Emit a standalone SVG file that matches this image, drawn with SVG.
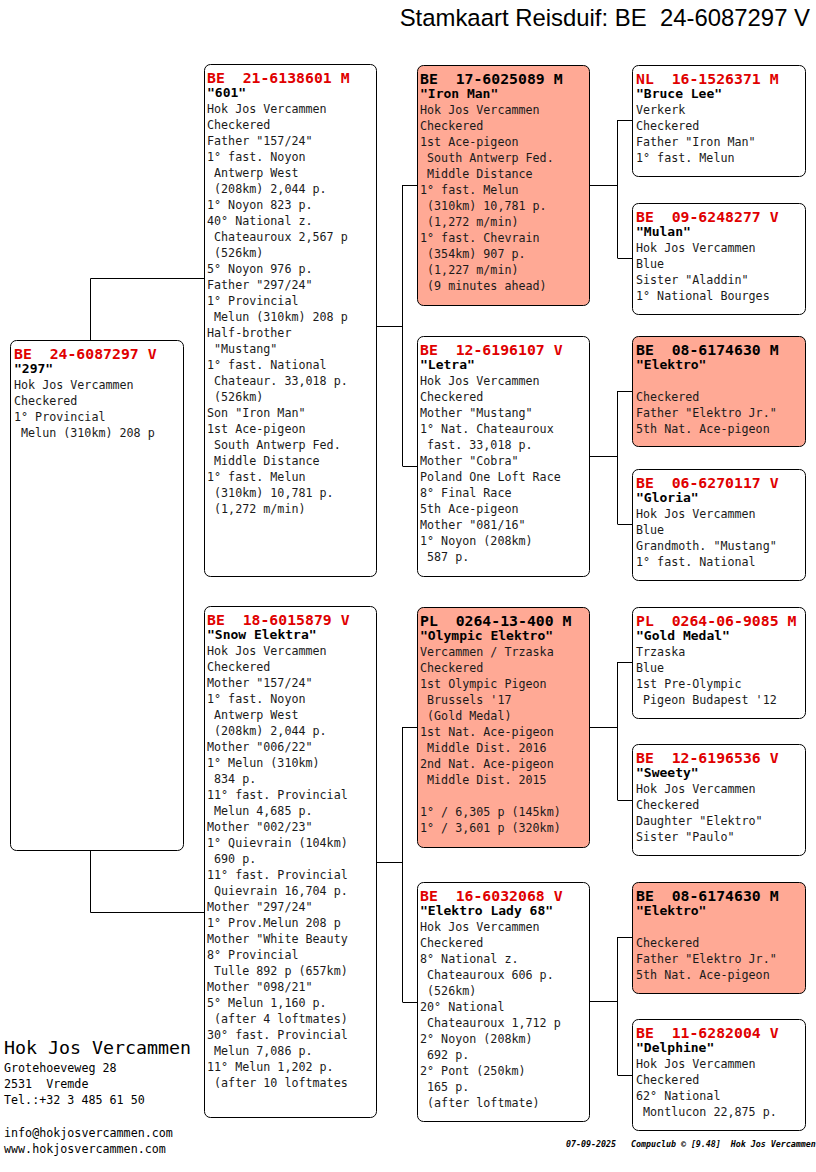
<svg xmlns="http://www.w3.org/2000/svg" width="816" height="1172" viewBox="0 0 816 1172" xml:space="preserve">
<style>
text{white-space:pre}
.box{fill:#ffffff;stroke:#000;stroke-width:1}
.hl{fill:#FFA995;stroke:#000;stroke-width:1}
.t{font-family:"DejaVu Sans Mono","Liberation Mono",monospace;font-size:11.7px;fill:#1a1a1a}
.h{font-family:"DejaVu Sans Mono","Liberation Mono",monospace;font-size:14.8px;font-weight:bold;fill:#E00000}
.hk{fill:#000}
.n{font-family:"DejaVu Sans Mono","Liberation Mono",monospace;font-size:13px;font-weight:bold;fill:#000}
.c{fill:none;stroke:#000;stroke-width:1}
.title{font-family:"Liberation Sans",Arial,sans-serif;font-size:23.9px;fill:#000}
</style>
<rect width="816" height="1172" fill="#fff"/>
<text class="title" x="810" y="26" text-anchor="end">Stamkaart Reisduif: BE  24-6087297 V</text>

<g id="connectors">
<path class="c" d="M90.5 340 V278.5 H204 M90.5 850 V912.5 H204"/>
<path class="c" d="M376 326.5 H402.5 M402.5 185 V466 M402.5 185.5 H417 M402.5 466.5 H417"/>
<path class="c" d="M376 862.5 H402.5 M402.5 727 V1002 M402.5 727.5 H417 M402.5 1002.5 H417"/>
<path class="c" d="M589 185.5 H617.5 M617.5 120 V258 M617.5 120.5 H632 M617.5 258.5 H632"/>
<path class="c" d="M589 456.5 H617.5 M617.5 391 V524 M617.5 391.5 H632 M617.5 524.5 H632"/>
<path class="c" d="M589 727.5 H617.5 M617.5 662 V800 M617.5 662.5 H632 M617.5 800.5 H632"/>
<path class="c" d="M589 1001.5 H617.5 M617.5 937 V1075 M617.5 937.5 H632 M617.5 1075.5 H632"/>
</g>

<g id="n297">
<rect class="box" x="10.5" y="340.5" width="173" height="510" rx="6"/>
<text class="h" x="14" y="359">BE  24-6087297 V</text>
<text class="n" x="14" y="373">"297"</text>
<text class="t"><tspan x="14" y="389">Hok Jos Vercammen</tspan><tspan x="14" dy="16">Checkered</tspan><tspan x="14" dy="16">1° Provincial</tspan><tspan x="14" dy="16"> Melun (310km) 208 p</tspan></text>
</g>

<g id="n601">
<rect class="box" x="204.5" y="64.5" width="172" height="512" rx="6"/>
<text class="h" x="207" y="83">BE  21-6138601 M</text>
<text class="n" x="207" y="97">"601"</text>
<text class="t"><tspan x="207" y="113">Hok Jos Vercammen</tspan><tspan x="207" dy="16">Checkered</tspan><tspan x="207" dy="16">Father "157/24"</tspan><tspan x="207" dy="16">1° fast. Noyon</tspan><tspan x="207" dy="16"> Antwerp West</tspan><tspan x="207" dy="16"> (208km) 2,044 p.</tspan><tspan x="207" dy="16">1° Noyon 823 p.</tspan><tspan x="207" dy="16">40° National z.</tspan><tspan x="207" dy="16"> Chateauroux 2,567 p</tspan><tspan x="207" dy="16"> (526km)</tspan><tspan x="207" dy="16">5° Noyon 976 p.</tspan><tspan x="207" dy="16">Father "297/24"</tspan><tspan x="207" dy="16">1° Provincial</tspan><tspan x="207" dy="16"> Melun (310km) 208 p</tspan><tspan x="207" dy="16">Half-brother</tspan><tspan x="207" dy="16"> "Mustang"</tspan><tspan x="207" dy="16">1° fast. National</tspan><tspan x="207" dy="16"> Chateaur. 33,018 p.</tspan><tspan x="207" dy="16"> (526km)</tspan><tspan x="207" dy="16">Son "Iron Man"</tspan><tspan x="207" dy="16">1st Ace-pigeon</tspan><tspan x="207" dy="16"> South Antwerp Fed.</tspan><tspan x="207" dy="16"> Middle Distance</tspan><tspan x="207" dy="16">1° fast. Melun</tspan><tspan x="207" dy="16"> (310km) 10,781 p.</tspan><tspan x="207" dy="16"> (1,272 m/min)</tspan></text>
</g>

<g id="nSnowElektra">
<rect class="box" x="204.5" y="606.5" width="172" height="511" rx="6"/>
<text class="h" x="207" y="625">BE  18-6015879 V</text>
<text class="n" x="207" y="639">"Snow Elektra"</text>
<text class="t"><tspan x="207" y="655">Hok Jos Vercammen</tspan><tspan x="207" dy="16">Checkered</tspan><tspan x="207" dy="16">Mother "157/24"</tspan><tspan x="207" dy="16">1° fast. Noyon</tspan><tspan x="207" dy="16"> Antwerp West</tspan><tspan x="207" dy="16"> (208km) 2,044 p.</tspan><tspan x="207" dy="16">Mother "006/22"</tspan><tspan x="207" dy="16">1° Melun (310km)</tspan><tspan x="207" dy="16"> 834 p.</tspan><tspan x="207" dy="16">11° fast. Provincial</tspan><tspan x="207" dy="16"> Melun 4,685 p.</tspan><tspan x="207" dy="16">Mother "002/23"</tspan><tspan x="207" dy="16">1° Quievrain (104km)</tspan><tspan x="207" dy="16"> 690 p.</tspan><tspan x="207" dy="16">11° fast. Provincial</tspan><tspan x="207" dy="16"> Quievrain 16,704 p.</tspan><tspan x="207" dy="16">Mother "297/24"</tspan><tspan x="207" dy="16">1° Prov.Melun 208 p</tspan><tspan x="207" dy="16">Mother "White Beauty</tspan><tspan x="207" dy="16">8° Provincial</tspan><tspan x="207" dy="16"> Tulle 892 p (657km)</tspan><tspan x="207" dy="16">Mother "098/21"</tspan><tspan x="207" dy="16">5° Melun 1,160 p.</tspan><tspan x="207" dy="16"> (after 4 loftmates)</tspan><tspan x="207" dy="16">30° fast. Provincial</tspan><tspan x="207" dy="16"> Melun 7,086 p.</tspan><tspan x="207" dy="16">11° Melun 1,202 p.</tspan><tspan x="207" dy="16"> (after 10 loftmates</tspan></text>
</g>

<g id="nIronMan">
<rect class="hl" x="417.5" y="65.5" width="172" height="240" rx="6"/>
<text class="h hk" x="420" y="84">BE  17-6025089 M</text>
<text class="n" x="420" y="98">"Iron Man"</text>
<text class="t"><tspan x="420" y="114">Hok Jos Vercammen</tspan><tspan x="420" dy="16">Checkered</tspan><tspan x="420" dy="16">1st Ace-pigeon</tspan><tspan x="420" dy="16"> South Antwerp Fed.</tspan><tspan x="420" dy="16"> Middle Distance</tspan><tspan x="420" dy="16">1° fast. Melun</tspan><tspan x="420" dy="16"> (310km) 10,781 p.</tspan><tspan x="420" dy="16"> (1,272 m/min)</tspan><tspan x="420" dy="16">1° fast. Chevrain</tspan><tspan x="420" dy="16"> (354km) 907 p.</tspan><tspan x="420" dy="16"> (1,227 m/min)</tspan><tspan x="420" dy="16"> (9 minutes ahead)</tspan></text>
</g>

<g id="nLetra">
<rect class="box" x="417.5" y="336.5" width="172" height="240" rx="6"/>
<text class="h" x="420" y="355">BE  12-6196107 V</text>
<text class="n" x="420" y="369">"Letra"</text>
<text class="t"><tspan x="420" y="385">Hok Jos Vercammen</tspan><tspan x="420" dy="16">Checkered</tspan><tspan x="420" dy="16">Mother "Mustang"</tspan><tspan x="420" dy="16">1° Nat. Chateauroux</tspan><tspan x="420" dy="16"> fast. 33,018 p.</tspan><tspan x="420" dy="16">Mother "Cobra"</tspan><tspan x="420" dy="16">Poland One Loft Race</tspan><tspan x="420" dy="16">8° Final Race</tspan><tspan x="420" dy="16">5th Ace-pigeon</tspan><tspan x="420" dy="16">Mother "081/16"</tspan><tspan x="420" dy="16">1° Noyon (208km)</tspan><tspan x="420" dy="16"> 587 p.</tspan></text>
</g>

<g id="nOlympicElektro">
<rect class="hl" x="417.5" y="607.5" width="172" height="240" rx="6"/>
<text class="h hk" x="420" y="626">PL  0264-13-400 M</text>
<text class="n" x="420" y="640">"Olympic Elektro"</text>
<text class="t"><tspan x="420" y="656">Vercammen / Trzaska</tspan><tspan x="420" dy="16">Checkered</tspan><tspan x="420" dy="16">1st Olympic Pigeon</tspan><tspan x="420" dy="16"> Brussels '17</tspan><tspan x="420" dy="16"> (Gold Medal)</tspan><tspan x="420" dy="16">1st Nat. Ace-pigeon</tspan><tspan x="420" dy="16"> Middle Dist. 2016</tspan><tspan x="420" dy="16">2nd Nat. Ace-pigeon</tspan><tspan x="420" dy="16"> Middle Dist. 2015</tspan><tspan x="420" dy="32">1° / 6,305 p (145km)</tspan><tspan x="420" dy="16">1° / 3,601 p (320km)</tspan></text>
</g>

<g id="nElektroLady68">
<rect class="box" x="417.5" y="882.5" width="172" height="239" rx="6"/>
<text class="h" x="420" y="901">BE  16-6032068 V</text>
<text class="n" x="420" y="915">"Elektro Lady 68"</text>
<text class="t"><tspan x="420" y="931">Hok Jos Vercammen</tspan><tspan x="420" dy="16">Checkered</tspan><tspan x="420" dy="16">8° National z.</tspan><tspan x="420" dy="16"> Chateauroux 606 p.</tspan><tspan x="420" dy="16"> (526km)</tspan><tspan x="420" dy="16">20° National</tspan><tspan x="420" dy="16"> Chateauroux 1,712 p</tspan><tspan x="420" dy="16">2° Noyon (208km)</tspan><tspan x="420" dy="16"> 692 p.</tspan><tspan x="420" dy="16">2° Pont (250km)</tspan><tspan x="420" dy="16"> 165 p.</tspan><tspan x="420" dy="16"> (after loftmate)</tspan></text>
</g>

<g id="nBruceLee">
<rect class="box" x="632.5" y="65.5" width="173" height="111" rx="6"/>
<text class="h" x="636" y="84">NL  16-1526371 M</text>
<text class="n" x="636" y="98">"Bruce Lee"</text>
<text class="t"><tspan x="636" y="114">Verkerk</tspan><tspan x="636" dy="16">Checkered</tspan><tspan x="636" dy="16">Father "Iron Man"</tspan><tspan x="636" dy="16">1° fast. Melun</tspan></text>
</g>

<g id="nMulan">
<rect class="box" x="632.5" y="203.5" width="173" height="111" rx="6"/>
<text class="h" x="636" y="222">BE  09-6248277 V</text>
<text class="n" x="636" y="236">"Mulan"</text>
<text class="t"><tspan x="636" y="252">Hok Jos Vercammen</tspan><tspan x="636" dy="16">Blue</tspan><tspan x="636" dy="16">Sister "Aladdin"</tspan><tspan x="636" dy="16">1° National Bourges</tspan></text>
</g>

<g id="nElektro1">
<rect class="hl" x="632.5" y="336.5" width="173" height="110" rx="6"/>
<text class="h hk" x="636" y="355">BE  08-6174630 M</text>
<text class="n" x="636" y="369">"Elektro"</text>
<text class="t"><tspan x="636" y="401">Checkered</tspan><tspan x="636" dy="16">Father "Elektro Jr."</tspan><tspan x="636" dy="16">5th Nat. Ace-pigeon</tspan></text>
</g>

<g id="nGloria">
<rect class="box" x="632.5" y="469.5" width="173" height="111" rx="6"/>
<text class="h" x="636" y="488">BE  06-6270117 V</text>
<text class="n" x="636" y="502">"Gloria"</text>
<text class="t"><tspan x="636" y="518">Hok Jos Vercammen</tspan><tspan x="636" dy="16">Blue</tspan><tspan x="636" dy="16">Grandmoth. "Mustang"</tspan><tspan x="636" dy="16">1° fast. National</tspan></text>
</g>

<g id="nGoldMedal">
<rect class="box" x="632.5" y="607.5" width="173" height="111" rx="6"/>
<text class="h" x="636" y="626">PL  0264-06-9085 M</text>
<text class="n" x="636" y="640">"Gold Medal"</text>
<text class="t"><tspan x="636" y="656">Trzaska</tspan><tspan x="636" dy="16">Blue</tspan><tspan x="636" dy="16">1st Pre-Olympic</tspan><tspan x="636" dy="16"> Pigeon Budapest '12</tspan></text>
</g>

<g id="nSweety">
<rect class="box" x="632.5" y="744.5" width="173" height="111" rx="6"/>
<text class="h" x="636" y="763">BE  12-6196536 V</text>
<text class="n" x="636" y="777">"Sweety"</text>
<text class="t"><tspan x="636" y="793">Hok Jos Vercammen</tspan><tspan x="636" dy="16">Checkered</tspan><tspan x="636" dy="16">Daughter "Elektro"</tspan><tspan x="636" dy="16">Sister "Paulo"</tspan></text>
</g>

<g id="nElektro2">
<rect class="hl" x="632.5" y="882.5" width="173" height="111" rx="6"/>
<text class="h hk" x="636" y="901">BE  08-6174630 M</text>
<text class="n" x="636" y="915">"Elektro"</text>
<text class="t"><tspan x="636" y="947">Checkered</tspan><tspan x="636" dy="16">Father "Elektro Jr."</tspan><tspan x="636" dy="16">5th Nat. Ace-pigeon</tspan></text>
</g>

<g id="nDelphine">
<rect class="box" x="632.5" y="1019.5" width="173" height="111" rx="6"/>
<text class="h" x="636" y="1038">BE  11-6282004 V</text>
<text class="n" x="636" y="1052">"Delphine"</text>
<text class="t"><tspan x="636" y="1068">Hok Jos Vercammen</tspan><tspan x="636" dy="16">Checkered</tspan><tspan x="636" dy="16">62° National</tspan><tspan x="636" dy="16"> Montlucon 22,875 p.</tspan></text>
</g>

<g id="footer">
<text x="4" y="1054" style="font-family:'DejaVu Sans Mono','Liberation Mono',monospace;font-size:18.3px;fill:#000">Hok Jos Vercammen</text>
<text class="t" style="fill:#000"><tspan x="4" y="1072">Grotehoeveweg 28</tspan><tspan x="4" dy="16">2531  Vremde</tspan><tspan x="4" dy="16">Tel.:+32 3 485 61 50</tspan><tspan x="4" dy="33">info@hokjosvercammen.com</tspan><tspan x="4" dy="16">www.hokjosvercammen.com</tspan></text>
<text x="566" y="1147" style="font-family:'DejaVu Sans Mono','Liberation Mono',monospace;font-size:8.3px;font-style:italic;font-weight:bold;fill:#000">07-09-2025   Compuclub © [9.48]  Hok Jos Vercammen</text>
</g>
</svg>
